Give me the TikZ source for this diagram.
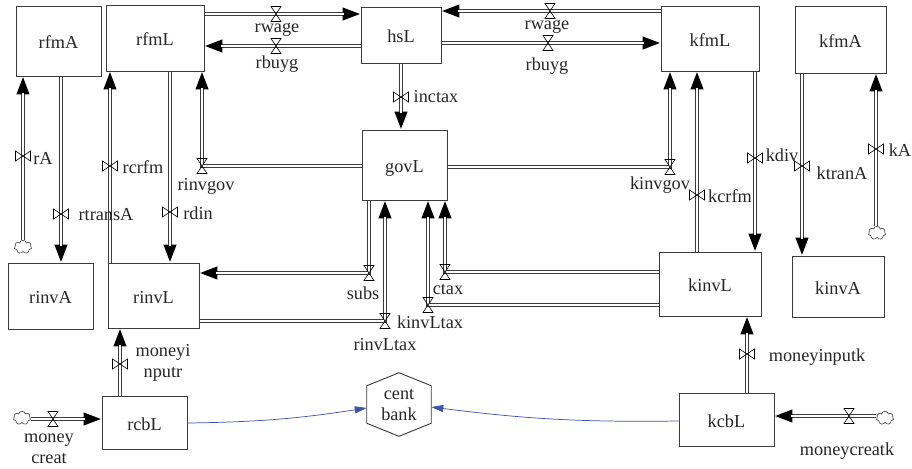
\documentclass[tikz,border=0pt]{standalone}
\usepackage{fontspec}
\setmainfont{Liberation Serif}
\usetikzlibrary{positioning}
\usetikzlibrary{calc}
\usetikzlibrary{arrows.meta}
\usetikzlibrary{backgrounds}
\usetikzlibrary{shapes.symbols}
\definecolor{diagramblue}{RGB}{62,84,170}
\definecolor{diagramgray}{RGB}{60,60,60}
\tikzset{
    stockbox/.style={draw=diagramgray, line width=0.7pt, rectangle, inner sep=0pt, text height=11.5pt, text depth=0pt, font=\fontsize{13.7}{16}\selectfont, text=black!85},
    flow/.style={draw=diagramgray, line width=2.9pt, -{Triangle[length=13.5pt,width=9pt,color=black]}, postaction={draw=white, line width=1.1pt, -, shorten >=12.5pt}},
    valveh/.style={inner sep=0pt, minimum size=13pt, path picture={\draw[shift={(path picture bounding box.center)}, line width=0.45pt] (-5,-7.5)--(5,-7.5)--(-5,7.5)--(5,7.5)--cycle;}},
    valvev/.style={inner sep=0pt, minimum size=13pt, path picture={\draw[shift={(path picture bounding box.center)}, line width=0.45pt] (-7.5,-5)--(-7.5,5)--(7.5,-5)--(7.5,5)--cycle;}},
    source/.style={cloud, cloud puffs=7, cloud puff arc=150, draw=diagramgray, fill=white, line width=0.45pt, inner sep=0pt, minimum width=13pt, minimum height=10pt, aspect=1.3},
    lbl/.style={inner sep=0pt, align=center, font=\fontsize{13.7}{15.75}\selectfont, text=black!85},
    link/.style={draw=diagramblue, line width=0.55pt, -{Triangle[length=9pt,width=5.25pt]}},
}
\newcommand{\boxnode}[6]{\node[stockbox, minimum width=#4 pt*0.75, minimum height=#5 pt*0.75] (#1) at (#2,#3) {#6};}
\begin{document}
\begin{tikzpicture}[x=0.75pt, y=-0.75pt]
        \useasboundingbox (0,0) rectangle (912,468);

        % Stocks
        \boxnode{rfmA}{58.5}{41}{85}{70}{rfmA}
        \boxnode{rfmL}{155}{38}{98}{66}{rfmL}
        \boxnode{hsL}{401}{35}{80}{56}{hsL}
        \boxnode{govL}{404.5}{165}{85}{70}{govL}
        \boxnode{kfmL}{710}{38.5}{98}{65}{kfmL}
        \boxnode{kfmA}{840.5}{39.5}{91}{67}{kfmA}
        \boxnode{rinvA}{50.5}{296}{85}{66}{rinvA}
        \boxnode{rinvL}{153.5}{295.5}{91}{65}{rinvL}
        \boxnode{kinvL}{710}{284}{102}{64}{kinvL}
        \boxnode{kinvA}{838}{286.5}{92}{61}{kinvA}
        \boxnode{rcbL}{144.5}{422.5}{85}{53}{rcbL}
        \boxnode{kcbL}{726.5}{419.5}{95}{53}{kcbL}

        % Central bank
        \node[lbl, minimum width=48pt, minimum height=47.25pt] (centbank) at (399,404.5) {cent\\bank};
        \draw[draw=diagramgray, line width=0.7pt] (centbank.north) -- ($(centbank.north east)+(0,13)$) -- ($(centbank.south east)+(0,-13)$) -- (centbank.south) -- ($(centbank.south west)+(0,-13)$) -- ($(centbank.north west)+(0,13)$) -- cycle;

        % Sources
        \node[source] (rAcloud) at (23,247) {};
        \node[source] (kAcloud) at (877,233) {};
        \node[source] (rcloud) at (22,418) {};
        \node[source] (kcloud) at (885,418) {};

        % Valves
        \node[valvev] (rAv) at (23,156) {};
        \node[valvev] (rtransAv) at (61,214) {};
        \node[valvev] (rcrfmv) at (110,166) {};
        \node[valvev] (rdinv) at (170,212) {};
        \node[valveh] (rinvgovv) at (202,166) {};
        \node[valveh] (rwagelv) at (276,14) {};
        \node[valveh] (rbuyglv) at (276,46) {};
        \node[valveh] (rwagerv) at (550,11) {};
        \node[valveh] (rbuygrv) at (548,43) {};
        \node[valvev] (inctaxv) at (401,97) {};
        \node[valveh] (kinvgovv) at (670,167) {};
        \node[valvev] (kcrfmv) at (697,195) {};
        \node[valvev] (kdivv) at (755,158) {};
        \node[valvev] (ktranAv) at (802,166) {};
        \node[valvev] (kAv) at (876,149) {};
        \node[valveh] (subsv) at (369,273) {};
        \node[valveh] (rinvLtaxv) at (385,321) {};
        \node[valveh] (kinvLtaxv) at (428,305) {};
        \node[valveh] (ctaxv) at (445,272) {};
        \node[valvev] (moneyirv) at (120,364) {};
        \node[valveh] (moneycreatv) at (53,419) {};
        \node[valvev] (moneyikv) at (747,354) {};
        \node[valveh] (moneycreatkv) at (849,416) {};

        % Flows
        \begin{scope}[on background layer]
        \draw[flow] (rAv |- rAcloud.north) -- (rAv |- rfmA.south);
        \draw[flow] (rtransAv |- rfmA.south) -- (rtransAv |- rinvA.north);
        \draw[flow] (rcrfmv |- rinvL.north) -- (rcrfmv |- rfmL.south);
        \draw[flow] (rdinv |- rfmL.south) -- (rdinv |- rinvL.north);
        \draw[flow] (govL.west |- rinvgovv) -- (rinvgovv.center) -- (rinvgovv |- rfmL.south);
        \draw[flow] (rfmL.east |- rwagelv) -- (hsL.west |- rwagelv);
        \draw[flow] (hsL.west |- rbuyglv) -- (rfmL.east |- rbuyglv);
        \draw[flow] (kfmL.west |- rwagerv) -- (hsL.east |- rwagerv);
        \draw[flow] (hsL.east |- rbuygrv) -- (kfmL.west |- rbuygrv);
        \draw[flow] (inctaxv |- hsL.south) -- (inctaxv |- govL.north);
        \draw[flow] (govL.east |- kinvgovv) -- (kinvgovv.center) -- (kinvgovv |- kfmL.south);
        \draw[flow] (kcrfmv |- kinvL.north) -- (kcrfmv |- kfmL.south);
        \draw[flow] (kdivv |- kfmL.south) -- (kdivv |- kinvL.north);
        \draw[flow] (ktranAv |- kfmA.south) -- (ktranAv |- kinvA.north);
        \draw[flow] (kAv |- kAcloud.north) -- (kAv |- kfmA.south);
        \draw[flow] (subsv |- govL.south) -- (subsv.center) -- (rinvL.east |- subsv);
        \draw[flow] (rinvL.east |- rinvLtaxv) -- (rinvLtaxv.center) -- (rinvLtaxv |- govL.south);
        \draw[flow] (kinvL.west |- kinvLtaxv) -- (kinvLtaxv.center) -- (kinvLtaxv |- govL.south);
        \draw[flow] (kinvL.west |- ctaxv) -- (ctaxv.center) -- (ctaxv |- govL.south);
        \draw[flow] (moneyirv |- rcbL.north) -- (moneyirv |- rinvL.south);
        \draw[flow] (rcloud.east |- moneycreatv) -- (rcbL.west |- moneycreatv);
        \draw[flow] (moneyikv |- kcbL.north) -- (moneyikv |- kinvL.south);
        \draw[flow] (kcloud.west |- moneycreatkv) -- (kcbL.east |- moneycreatkv);
        \end{scope}

        % Links to the central bank
        \draw[link] ($(rcbL.east)+(0,0.5)$) to[bend right=4] ($(centbank.west)+(0,3.5)$);
        \draw[link] ($(kcbL.west)+(0,1.5)$) to[bend left=4] ($(centbank.east)+(0,2.5)$);

        % Labels
        \node[lbl] (rAlbl) at (43,158) {rA};
        \node[lbl] (rtransAlbl) at (106,215) {rtransA};
        \node[lbl] (rcrfmlbl) at (143,167) {rcrfm};
        \node[lbl] (rdinlbl) at (198,213) {rdin};
        \node[lbl] (rinvgovlbl) at (206,186) {rinvgov};
        \node[lbl] (rwagellbl) at (277,30) {rwage};
        \node[lbl] (rbuygllbl) at (277,64) {rbuyg};
        \node[lbl] (rwagerlbl) at (547,27) {rwage};
        \node[lbl] (rbuygrlbl) at (547,66) {rbuyg};
        \node[lbl] (inctaxlbl) at (436,97) {inctax};
        \node[lbl] (kinvgovlbl) at (660,185) {kinvgov};
        \node[lbl] (kcrfmlbl) at (730,196) {kcrfm};
        \node[lbl] (kdivlbl) at (782,155) {kdiv};
        \node[lbl] (ktranAlbl) at (842,173) {ktranA};
        \node[lbl] (kAlbl) at (900,150) {kA};
        \node[lbl] (subslbl) at (363,293) {subs};
        \node[lbl] (rinvLtaxlbl) at (385,345) {rinvLtax};
        \node[lbl] (kinvLtaxlbl) at (430,322) {kinvLtax};
        \node[lbl] (ctaxlbl) at (448,289) {ctax};
        \node[lbl] (moneyirlbl) at (163,362.5) {moneyi\\nputr};
        \node[lbl] (moneycreatlbl) at (49,448.5) {money\\creat};
        \node[lbl] (moneyiklbl) at (817,357) {moneyinputk};
        \node[lbl] (moneycreatklbl) at (847,451) {moneycreatk};
\end{tikzpicture}
\end{document}
